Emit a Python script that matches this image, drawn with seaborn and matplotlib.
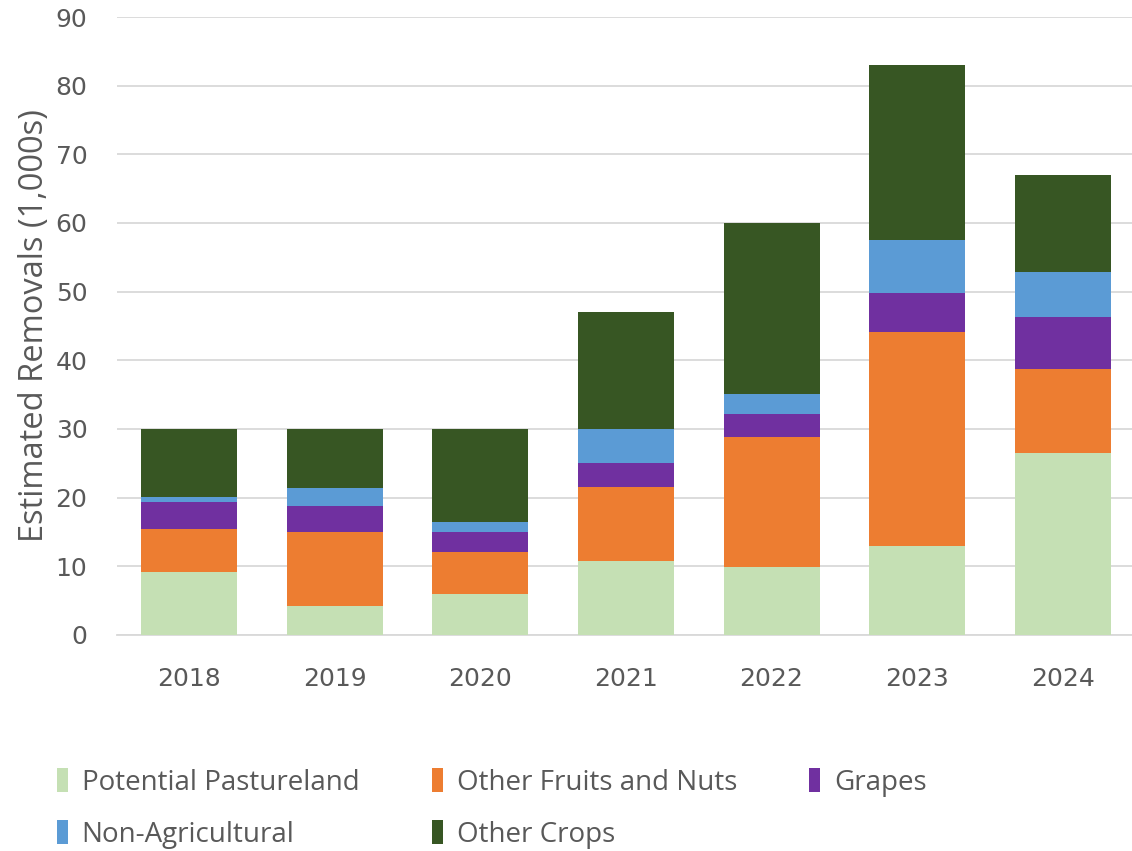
import matplotlib
matplotlib.use("Agg")
import matplotlib.pyplot as plt
import seaborn as sns
import pandas as pd
import numpy as np
from matplotlib.patches import Patch

years = ["2018", "2019", "2020", "2021", "2022", "2023", "2024"]
series_names = ["Potential Pastureland", "Other Fruits and Nuts", "Grapes",
                "Non-Agricultural", "Other Crops"]
pastureland = [9.2, 4.2, 6.0, 10.8, 9.9, 13.0, 26.5]
fruits_nuts = [6.2, 10.8, 6.1, 10.8, 18.9, 31.1, 12.2]
grapes = [4.0, 3.8, 2.9, 3.4, 3.4, 5.7, 7.6]
non_agricultural = [0.7, 2.6, 1.5, 5.0, 2.9, 7.7, 6.6]
other_crops = [9.9, 8.6, 13.5, 17.0, 24.9, 25.5, 14.1]
colors = ["#C5E0B4", "#ED7D31", "#7030A0", "#5B9BD5", "#375623"]
yticks = list(range(0, 91, 10))

sns.set_theme(style="white")
plt.rcParams["font.family"] = ["Open Sans", "DejaVu Sans"]

fig = plt.figure(figsize=(11.32, 8.51), dpi=100)
ax = fig.add_axes([0.103, 0.254, 0.9, 0.726])

values = [pastureland, fruits_nuts, grapes, non_agricultural, other_crops]
bottom = np.zeros(len(years))
for name, vals, col in zip(series_names, values, colors):
    df = pd.DataFrame({"year": years, "value": vals})
    sns.barplot(data=df, x="year", y="value", order=years, color=col,
                bottom=bottom, width=0.66, ax=ax, saturation=1, zorder=3,
                edgecolor="none", linewidth=0)
    bottom = bottom + np.array(vals)

ax.set_ylim(0, 90)
ax.set_xlim(-0.5, 6.5)
ax.set_yticks(yticks, labels=[str(v) for v in yticks],
              fontfamily="DejaVu Sans", fontsize=18, color="#595959")
ax.set_xticks(range(len(years)), labels=years,
              fontfamily="DejaVu Sans", fontsize=18, color="#595959")
ax.yaxis.grid(True, color="#D9D9D9", linewidth=1.3, zorder=0)
ax.xaxis.grid(False)
for s in ["top", "right", "left"]:
    ax.spines[s].set_visible(False)
ax.spines["bottom"].set_color("#D9D9D9")
ax.spines["bottom"].set_linewidth(1.3)
ax.tick_params(axis="both", length=0)
ax.tick_params(axis="y", pad=21)
ax.tick_params(axis="x", pad=23)
ax.set_xlabel("")
ax.set_ylabel("Estimated Removals (1,000s)", fontsize=23.5, color="#595959", labelpad=3)

handles = [Patch(facecolor=c, edgecolor="none") for c in colors]
leg = fig.legend([handles[i] for i in [0, 3, 1, 4, 2]],
                 [series_names[i] for i in [0, 3, 1, 4, 2]],
                 ncol=3, loc="lower left", bbox_to_anchor=(0.028, -0.027),
                 frameon=False, fontsize=20, handlelength=0.4, handleheight=0.95,
                 handletextpad=0.5, columnspacing=2.6, labelspacing=0.85)
for t in leg.get_texts():
    t.set_color("#595959")

fig.savefig("out.png", dpi=100)
